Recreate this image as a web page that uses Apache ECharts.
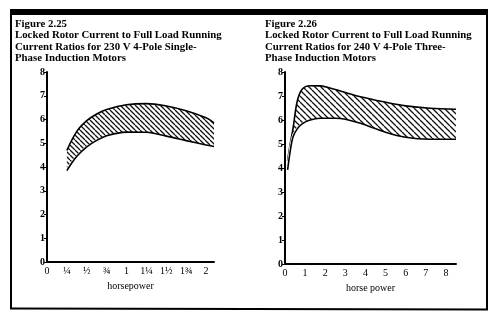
<!DOCTYPE html>
<html><head><meta charset="utf-8">
<script src="https://cdn.jsdelivr.net/npm/echarts@6/dist/echarts.min.js"></script>
<style>html,body{margin:0;padding:0;background:#fff}#c{width:499px;height:325px}</style>
</head><body><div id="c"></div>
<script>
// ---- data ----
const titleLeft = "Figure 2.25\nLocked Rotor Current to Full Load Running\nCurrent Ratios for 230 V 4-Pole Single-\nPhase Induction Motors";
const titleRight = "Figure 2.26\nLocked Rotor Current to Full Load Running\nCurrent Ratios for 240 V 4-Pole Three-\nPhase Induction Motors";
const leftXName = "horsepower";
const rightXName = "horse power";
const leftTickLabels = ["0", "¼", "½", "¾", "1", "1¼", "1½", "1¾", "2"];
const rightTickLabels = ["0", "1", "2", "3", "4", "5", "6", "7", "8"];
const yTickLabels = ["0", "1", "2", "3", "4", "5", "6", "7", "8"];

const leftHp    = [0.25, 0.375, 0.5, 0.625, 0.75, 1.0, 1.25, 1.5, 1.75, 2.0, 2.1];
const leftUpper = [4.70, 5.50, 5.95, 6.23, 6.42, 6.62, 6.67, 6.57, 6.37, 6.07, 5.86];
const leftLower = [3.85, 4.45, 4.85, 5.12, 5.32, 5.47, 5.46, 5.30, 5.11, 4.93, 4.86];

const rightHp    = [0.13, 0.25, 0.4, 0.6, 0.85, 1.25, 1.75, 2.5, 3.0, 3.75, 4.9, 6.0, 7.2, 8.5];
const rightUpper = [4.30, 4.95, 5.65, 6.75, 7.28, 7.43, 7.42, 7.27, 7.15, 6.97, 6.76, 6.59, 6.49, 6.45];
const rightLower = [3.92, 4.65, 5.30, 5.62, 5.84, 6.00, 6.07, 6.07, 6.03, 5.86, 5.52, 5.28, 5.20, 5.20];

// ---- hatch patterns ----
function hatch(size, lw) {
  const c = document.createElement('canvas');
  c.width = size; c.height = size;
  const g = c.getContext('2d');
  g.fillStyle = '#fff'; g.fillRect(0, 0, size, size);
  g.strokeStyle = '#111'; g.lineWidth = lw;
  g.beginPath();
  for (let k = -1; k <= 1; k++) {
    g.moveTo(k * size, 0); g.lineTo(k * size + size, size);
  }
  g.stroke();
  return c;
}
const patL = hatch(5, 1.3);
const patR = hatch(6, 1.3);

const serif = '"Liberation Serif", "DejaVu Serif", serif';
const chart = echarts.init(document.getElementById('c'), null, {renderer: 'canvas'});

function pairs(xs, ys) { return xs.map((x, i) => [x, ys[i]]); }

function xAxis(gi, max, interval, labels, name) {
  return {
    type: 'value', gridIndex: gi, min: 0, max: max, interval: interval, z: 5,
    axisLine: {show: true, onZero: false, lineStyle: {color: '#000', width: 2}},
    axisTick: {show: false}, splitLine: {show: false},
    axisLabel: {
      color: '#000', fontFamily: serif, fontSize: 10, margin: 4,
      formatter: v => { const i = Math.round(v / interval); return Math.abs(i * interval - v) < 1e-6 ? (labels[i] || '') : ''; }
    },
    name: name, nameLocation: 'middle', nameGap: 19,
    nameTextStyle: {color: '#000', fontFamily: serif, fontSize: 10}
  };
}
function yAxis(gi) {
  return {
    type: 'value', gridIndex: gi, min: 0, max: 8, interval: 1, z: 5,
    axisLine: {show: true, lineStyle: {color: '#000', width: 2}},
    axisTick: {show: true, length: 3, lineStyle: {color: '#000', width: 1}},
    splitLine: {show: false},
    axisLabel: {color: '#000', fontFamily: serif, fontSize: 10, fontWeight: 'bold', margin: 2,
      formatter: v => yTickLabels[Math.round(v)] || ''}
  };
}
function band(gi, xs, up, lo, pat) {
  return [
    {type: 'line', xAxisIndex: gi, yAxisIndex: gi, smooth: 0.35, symbol: 'none', z: 2,
     data: pairs(xs, up), lineStyle: {color: '#000', width: 1.6},
     areaStyle: {color: {image: pat, repeat: 'repeat'}, opacity: 1, origin: 'start'}, silent: true},
    {type: 'line', xAxisIndex: gi, yAxisIndex: gi, smooth: 0.35, symbol: 'none', z: 3,
     data: pairs(xs, lo), lineStyle: {color: '#000', width: 1.6},
     areaStyle: {color: '#fff', opacity: 1, origin: 'start', shadowColor: '#fff', shadowBlur: 0, shadowOffsetX: -1.5}, silent: true}
  ];
}

chart.setOption({
  animation: false,
  backgroundColor: '#fff',
  title: [
    {text: titleLeft, left: 10, top: 13, textStyle: {fontFamily: serif, fontSize: 10.8, fontWeight: 'bold', color: '#000', lineHeight: 11.6}},
    {text: titleRight, left: 260, top: 13, textStyle: {fontFamily: serif, fontSize: 10.8, fontWeight: 'bold', color: '#000', lineHeight: 11.6}}
  ],
  grid: [
    {left: 47, top: 72, width: 167, height: 190},
    {left: 285, top: 72, width: 171, height: 192}
  ],
  xAxis: [xAxis(0, 2.1, 0.25, leftTickLabels, leftXName), xAxis(1, 8.5, 1, rightTickLabels, rightXName)],
  yAxis: [yAxis(0), yAxis(1)],
  series: [].concat(band(0, leftHp, leftUpper, leftLower, patL), band(1, rightHp, rightUpper, rightLower, patR)),
  graphic: [
    {type: 'rect', shape: {x: 10, y: 9, width: 478, height: 6}, style: {fill: '#000'}},
    {type: 'line', shape: {x1: 11, y1: 9, x2: 11, y2: 309}, style: {stroke: '#000', lineWidth: 2}},
    {type: 'line', shape: {x1: 10, y1: 308.5, x2: 488, y2: 309.5}, style: {stroke: '#000', lineWidth: 2}},
    {type: 'line', shape: {x1: 487, y1: 9, x2: 487, y2: 310}, style: {stroke: '#000', lineWidth: 2}}
  ]
});
</script></body></html>
